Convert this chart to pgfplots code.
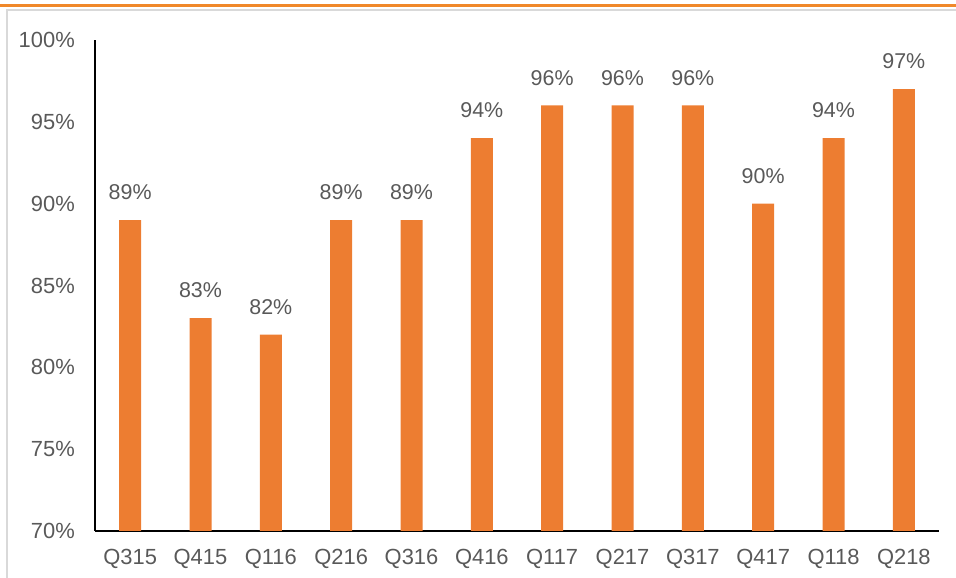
\documentclass[border=0pt]{standalone}
\usepackage{fontspec}
\setmainfont{Liberation Sans}
\usepackage{pgfplots}
\pgfplotsset{compat=1.18}
\definecolor{barorange}{HTML}{ED7D31}
\definecolor{toporange}{HTML}{F0882A}
\definecolor{framegray}{HTML}{D9D9D9}
\definecolor{txtgray}{HTML}{595959}
\begin{document}
\begin{tikzpicture}[x=1bp,y=1bp]
\path[use as bounding box] (0,0) rectangle (956,578);
% frame and top rule
\draw[framegray, line width=1.5bp] (7,-2) -- (7,568) -- (958,568);
\draw[toporange, line width=2.5bp] (0,572.5) -- (956,572.5);
\begin{axis}[
    at={(95bp,47bp)}, anchor=south west,
    scale only axis, width=844bp, height=491bp,
    ybar, bar width=22bp,
    xmin=-0.5, xmax=11.5, ymin=70, ymax=100,
    xtick=data,
    xticklabels={Q315,Q415,Q116,Q216,Q316,Q416,Q117,Q217,Q317,Q417,Q118,Q218},
    ytick={70,75,...,100},
    yticklabel={\pgfmathprintnumber{\tick}\%},
    /pgf/number format/assume math mode=true,
    axis x line*=bottom, axis y line*=left,
    axis line style={black, line width=1.2bp, -},
    major tick length=0pt,
    tick label style={text=txtgray, font=\fontsize{22}{26}\selectfont},
    yticklabel style={anchor=east, inner sep=0pt, xshift=-20bp},
    xticklabel style={anchor=north, inner sep=0pt, yshift=-18bp},
    nodes near coords={\pgfmathprintnumber{\pgfplotspointmeta}\%},
    nodes near coords style={text=txtgray, font=\fontsize{21.5}{26}\selectfont,
        anchor=south, inner sep=0pt, yshift=20bp},
    clip=false,
]
\addplot[fill=barorange, draw=none] coordinates {
    (0,89) (1,83) (2,82) (3,89) (4,89) (5,94)
    (6,96) (7,96) (8,96) (9,90) (10,94) (11,97)
};
\end{axis}
\end{tikzpicture}
\end{document}
